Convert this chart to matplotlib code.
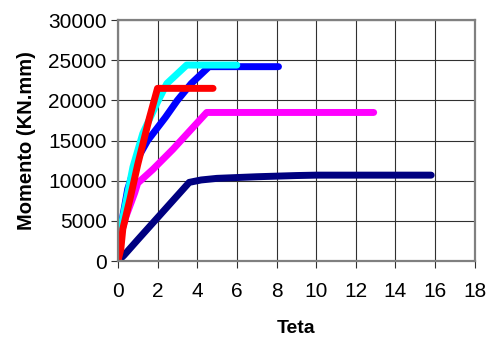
import matplotlib
matplotlib.use("Agg")
import matplotlib.pyplot as plt

plt.rcParams['font.family'] = ['Liberation Sans', 'DejaVu Sans']

# curve data (Teta, Momento)
navy_x = [0, 0.3, 1, 2, 3, 3.6, 4.2, 5, 7, 9, 10, 15.8]
navy_y = [0, 700, 2650, 5400, 8150, 9800, 10100, 10300, 10500, 10650, 10700, 10700]

mag_x = [0, 0.05, 0.4, 0.85, 1.0, 1.76, 2.77, 4.48, 12.9]
mag_y = [0, 2500, 5500, 8500, 9700, 11400, 13900, 18500, 18500]

blue_x = [0, 0.1, 0.5, 1.0, 1.5, 2.4, 3.0, 3.7, 4.6, 8.1]
blue_y = [0, 3500, 9000, 12800, 15000, 17900, 20000, 22100, 24200, 24200]

cyan_x = [0, 0.1, 0.76, 1.26, 2.0, 2.47, 3.47, 6.0]
cyan_y = [0, 3500, 11700, 15900, 19800, 22100, 24400, 24400]

red_x = [0, 0.15, 0.25, 0.6, 1.0, 1.6, 2.0, 4.8]
red_y = [0, 1500, 4000, 7600, 12000, 17900, 21500, 21500]

series = [
    (navy_x, navy_y, '#000080'),
    (mag_x, mag_y, '#ff00ff'),
    (blue_x, blue_y, '#0000ff'),
    (cyan_x, cyan_y, '#00ffff'),
    (red_x, red_y, '#ff0000'),
]

fig = plt.figure(figsize=(4.89, 3.40), dpi=100)
ax = fig.add_axes([0.241, 0.232, 0.730, 0.709])

for x, y, c in series:
    ax.plot(x, y, color=c, lw=5, solid_capstyle='round', solid_joinstyle='round')

ax.set_xlim(0, 18)
ax.set_ylim(0, 30000)
ax.set_xticks(range(0, 19, 2))
ax.set_yticks(range(0, 30001, 5000))
ax.grid(True, color='#303030', lw=0.8)
ax.set_axisbelow(True)
for s in ax.spines.values():
    s.set_color('#808080')
    s.set_linewidth(1.6)
ax.tick_params(labelsize=15, length=5, color='#303030')
ax.tick_params(axis='x', pad=10)
ax.tick_params(axis='y', pad=3)
ax.set_xlabel('Teta', fontsize=14, fontweight='bold', labelpad=14)
ax.set_ylabel('Momento (KN.mm)', fontsize=14.5, fontweight='bold', labelpad=9)

fig.savefig('out.png', dpi=100)
